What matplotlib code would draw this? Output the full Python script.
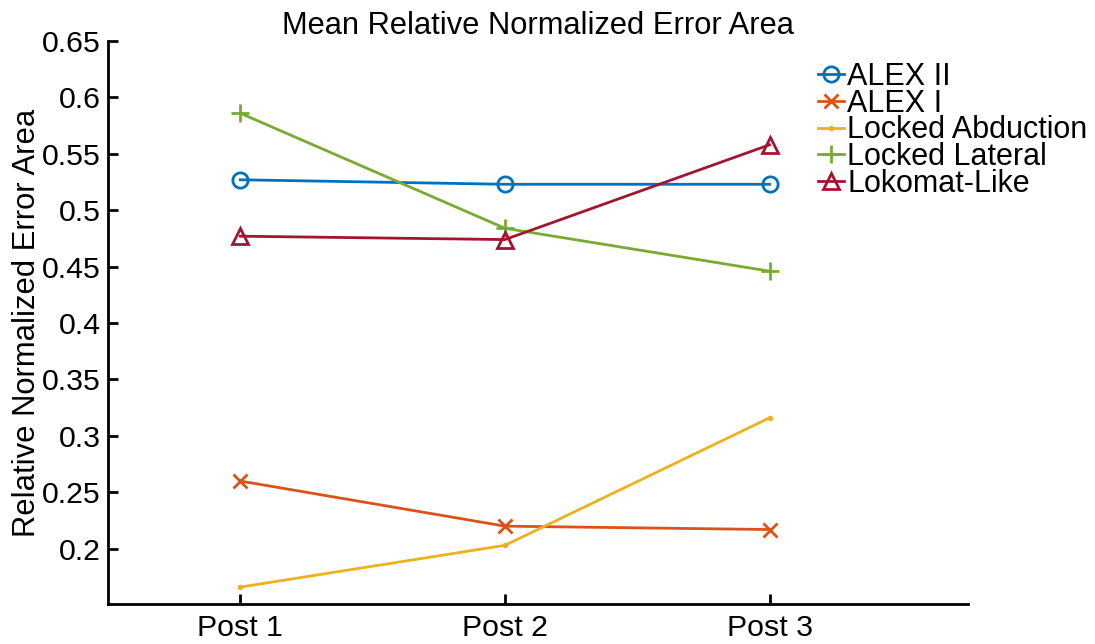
import matplotlib.pyplot as plt

plt.rcParams['font.family'] = ['Liberation Sans', 'DejaVu Sans']

sessions = ['Post 1', 'Post 2', 'Post 3']
alex2 = [0.527, 0.523, 0.523]
alex1 = [0.260, 0.220, 0.217]
locked_abd = [0.166, 0.203, 0.316]
locked_lat = [0.586, 0.484, 0.446]
lokomat = [0.477, 0.474, 0.558]

colors = ['#0072BD', '#D95319', '#EDB120', '#77AC30', '#A2142F']

fig = plt.figure(figsize=(10.95, 6.44), dpi=100)
ax = fig.add_axes([108/1095, 40/644, 860/1095, 563/644])

x = [1, 2, 3]
ax.plot(x, alex2, marker='o', ms=11, mfc='none', mew=2, lw=2, color=colors[0], label='ALEX II')
ax.plot(x, alex1, marker='x', ms=10, mew=2, lw=2, color=colors[1], label='ALEX I')
ax.plot(x, locked_abd, marker='.', ms=6, lw=2, color=colors[2], label='Locked Abduction')
ax.plot(x, locked_lat, marker='+', ms=13, mew=2, lw=2, color=colors[3], label='Locked Lateral')
ax.plot(x, lokomat, marker='^', ms=12, mfc='none', mew=2, lw=2, color=colors[4], label='Lokomat-Like')

ax.set_xlim(0.5, 3.75)
ax.set_ylim(0.151, 0.65)
ax.set_xticks(x)
ax.set_xticklabels(sessions)
ax.set_yticks([0.2, 0.25, 0.3, 0.35, 0.4, 0.45, 0.5, 0.55, 0.6, 0.65])
ax.set_yticklabels(['0.2', '0.25', '0.3', '0.35', '0.4', '0.45', '0.5', '0.55', '0.6', '0.65'])
ax.tick_params(direction='in', length=7, width=2, labelsize=21.8)
ax.tick_params(axis='x', pad=7)
ax.tick_params(axis='y', pad=5)

for s in ['top', 'right']:
    ax.spines[s].set_visible(False)
for s in ['left', 'bottom']:
    ax.spines[s].set_linewidth(2)

ax.set_title('Mean Relative Normalized Error Area', fontsize=22.2, pad=5)
ax.set_ylabel('Relative Normalized Error Area', fontsize=22.3, labelpad=0)

ax.legend(loc='upper left', bbox_to_anchor=(818/1095, 1 - 62/644), bbox_transform=fig.transFigure,
          frameon=False, fontsize=22, handlelength=0.85, handletextpad=0.1,
          labelspacing=-0.11, borderpad=0, borderaxespad=0)

fig.savefig('out.png', dpi=100)
